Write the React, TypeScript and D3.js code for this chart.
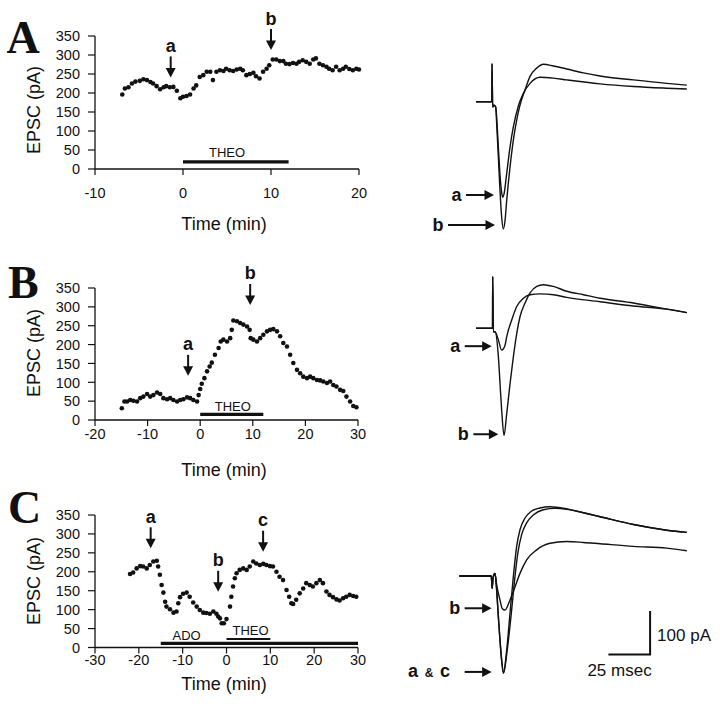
import React from 'react';
import * as d3 from 'd3';

// ---------- DATA ----------
// Time courses: [time (min), EPSC (pA)]
const courseA: [number, number][] = [
  [-6.9,196],[-6.6,212],[-6.2,215],[-5.8,225],[-5.4,230],[-4.9,232],[-4.5,236],[-4.1,234],[-3.7,229],[-3.4,225],
  [-3.0,218],[-2.6,210],[-2.2,215],[-1.9,218],[-1.5,215],[-1.1,216],[-0.7,206],[-0.3,186],[0.0,190],[0.4,192],
  [0.8,196],[1.2,212],[1.5,220],[1.9,242],[2.3,247],[2.7,256],[3.1,256],[3.4,234],[3.8,256],[4.2,260],
  [4.6,258],[4.9,264],[5.3,260],[5.7,258],[6.1,262],[6.5,264],[6.8,260],[7.2,247],[7.6,250],[8.0,253],
  [8.3,244],[8.7,238],[9.1,256],[9.5,264],[9.8,273],[10.2,288],[10.6,288],[11.0,284],[11.4,284],[11.7,277],
  [12.1,276],[12.5,279],[12.9,277],[13.2,282],[13.6,286],[14.0,282],[14.4,277],[14.8,288],[15.1,291],[15.5,277],
  [15.9,273],[16.3,269],[16.6,264],[17.0,260],[17.4,269],[17.8,260],[18.2,264],[18.5,269],[18.9,263],[19.3,260],
  [19.7,264],[20.0,262]
];
const courseB: [number, number][] = [
  [-14.9,31],[-14.4,49],[-13.9,49],[-13.3,53],[-12.7,51],[-12.0,49],[-11.4,58],[-10.8,62],[-10.1,69],[-9.5,62],
  [-8.9,66],[-8.2,73],[-7.6,69],[-7.0,58],[-6.3,55],[-5.7,58],[-5.1,53],[-4.4,49],[-3.8,53],[-3.2,55],
  [-2.5,60],[-1.9,58],[-1.3,53],[-0.6,49],[-0.3,66],[0.0,82],[0.3,96],[0.8,111],[1.3,129],[1.8,142],
  [2.2,152],[2.8,173],[3.5,191],[3.9,208],[4.4,213],[5.1,208],[5.7,217],[6.0,239],[6.3,264],[7.0,262],
  [7.6,257],[8.2,253],[8.9,248],[9.4,239],[9.6,217],[10.1,213],[10.8,208],[11.4,217],[12.0,226],[12.7,235],
  [13.3,239],[13.9,241],[14.6,235],[15.2,222],[15.8,204],[16.5,195],[17.1,173],[17.7,151],[18.4,133],[19.0,124],
  [19.6,115],[20.3,111],[20.9,115],[21.5,111],[22.2,106],[22.8,105],[23.4,102],[24.1,98],[24.7,102],[25.3,93],
  [25.9,89],[26.6,80],[27.2,77],[27.8,62],[28.5,49],[29.1,37],[29.7,34]
];
const courseC: [number, number][] = [
  [-22.0,194],[-21.3,198],[-20.5,209],[-19.7,215],[-19.0,214],[-18.2,209],[-17.5,218],[-16.7,227],[-15.9,229],[-15.6,214],
  [-15.2,192],[-14.8,165],[-14.4,145],[-14.0,121],[-13.7,108],[-12.9,101],[-12.1,92],[-11.4,95],[-11.0,117],[-10.6,133],
  [-9.9,142],[-9.1,145],[-8.4,134],[-7.6,119],[-6.8,108],[-6.1,99],[-5.3,92],[-4.6,91],[-3.8,89],[-3.0,95],
  [-2.3,89],[-1.9,82],[-1.5,77],[-1.1,64],[-0.6,64],[0.0,75],[0.8,108],[1.1,134],[1.5,161],[1.9,183],
  [2.3,196],[3.0,205],[3.8,209],[4.6,205],[5.3,214],[6.1,227],[6.8,222],[7.6,218],[8.4,221],[9.1,218],
  [9.9,215],[10.6,214],[11.4,200],[12.1,187],[12.9,178],[13.7,152],[14.3,134],[14.8,117],[15.2,115],[15.9,126],
  [16.7,143],[17.5,156],[18.2,170],[19.0,165],[19.7,161],[20.5,170],[21.3,178],[22.0,170],[22.8,148],[23.5,139],
  [24.3,133],[25.1,127],[25.8,124],[26.6,130],[27.3,134],[28.1,139],[28.9,136],[29.6,134]
];

const yTicks = [0, 50, 100, 150, 200, 250, 300, 350];
const xTicksA = [-10, 0, 10, 20];
const xTicksB = [-20, -10, 0, 10, 20, 30];
const xTicksC = [-30, -20, -10, 0, 10, 20, 30];

// drug application bars: [label, start, end, level (pA)]
const drugsA: [string, number, number, number][] = [['THEO', 0, 12, 19]];
const drugsB: [string, number, number, number][] = [['THEO', 0, 12, 15]];
const drugsC: [string, number, number, number][] = [['ADO', -15, 30, 11], ['THEO', 0, 10, 22.5]];
// drug label anchor times
const drugLabelT_A = [5.0];
const drugLabelT_B = [6.2];
const drugLabelT_C = [-9.1, 5.5];

// time-course arrows: [label, time, tip value]
const arrowsA: [string, number, number][] = [['a', -1.4, 241], ['b', 10, 313]];
const arrowsB: [string, number, number][] = [['a', -2.3, 117], ['b', 9.5, 305]];
const arrowsC: [string, number, number][] = [['a', -17.3, 262], ['b', -1.9, 147], ['c', 8.35, 253]];

// Current traces: [time (ms) from stimulus, current (pA) from baseline]
const traceAa: [number, number][] = [
  [-9.6,0],[-0.4,0],[-0.1,2],[0,87],[0.4,-12],[1.2,-8],[2.2,-12],[3.8,-104],[4.8,-168],[5.8,-208],[6.4,-219],
  [7.2,-212],[8.8,-165],[10.8,-104],[12.8,-58],[15.8,-10],[18.8,19],[22.8,42],[28.8,56],[36.8,54],[44.8,50],
  [64.8,41],[84.8,35],[104.8,31],[116.8,29]
];
const traceAb: [number, number][] = [
  [-9.6,0],[-0.4,0],[-0.1,2],[0,87],[0.4,-12],[1.2,-8],[2.2,-12],[2.8,-50],[3.8,-127],[4.8,-204],[5.8,-265],
  [6.8,-292],[7.8,-273],[8.8,-227],[10.8,-150],[12.8,-88],[14.8,-42],[16.8,-8],[19.8,27],[22.8,58],[26.8,77],
  [30.8,86],[36.8,82],[44.8,75],[54.8,66],[64.8,59],[84.8,50],[104.8,42],[116.8,38]
];
const traceBa: [number, number][] = [
  [-10,0],[-0.4,0],[-0.1,2],[0,119],[0.4,-8],[1.4,-8],[3.4,-27],[5.4,-50],[7.4,-39],[8.4,-19],[11.4,19],
  [14.4,50],[18.4,69],[22.4,77],[28.4,79],[36.4,77],[44.4,71],[64.4,61],[84.4,51],[104.4,44],[116.4,36]
];
const traceBb: [number, number][] = [
  [-10,0],[-0.4,0],[-0.1,2],[0,119],[0.4,-8],[1.4,-8],[3.4,-65],[4.4,-127],[5.4,-189],[6.8,-246],[8.4,-196],
  [10.4,-127],[12.4,-65],[14.4,-12],[16.4,27],[19.4,58],[22.4,81],[26.4,96],[30.4,100],[36.4,96],[44.4,85],
  [54.4,77],[64.4,69],[84.4,58],[104.4,44],[116.4,36]
];
const traceCa: [number, number][] = [
  [-20.4,0],[-1.2,0],[-0.7,-28],[-0.2,-5],[1,6],[2,-32],[3,-94],[4,-148],[5,-194],[6,-223],[8,-171],[10,-86],
  [12,-2],[14,68],[16,106],[19,133],[23,149],[28,156],[34,159],[44,154],[54,145],[64,136],[84,118],[104,105],[116,100]
];
const traceCb: [number, number][] = [
  [-20.4,0],[-1.2,0],[-0.7,-28],[-0.2,-5],[1,6],[2,-20],[4,-55],[5.4,-75],[7,-78],[10,-55],[13,-25],[16,6],
  [20,37],[26,60],[34,75],[44,79],[54,77],[64,74],[84,68],[104,64],[116,58]
];
const traceCc: [number, number][] = [
  [-20.4,0],[-1.2,0],[-0.7,-28],[-0.2,-5],[1,6],[2,-30],[3,-90],[4,-145],[5,-192],[6.2,-222],[8.4,-168],[10.8,-86],
  [12.8,-8],[14.8,55],[17,95],[20,122],[24,140],[30,152],[37,155],[44,153],[54,145],[64,136],[84,118],[104,105],[116,100]
];

// trace arrows: [label, time (ms) of tip, current (pA) of tip]
const traceArrowsA: [string, number, number][] = [['a', 1.2, -214], ['b', 1.8, -283]];
const traceArrowsB: [string, number, number][] = [['a', -0.6, -41], ['b', 3.4, -243]];
const traceArrowsC: [string, number, number][] = [['b', -1, -74], ['a & c', -1, -220]];

const scaleBarMs = 25;
const scaleBarPA = 100;
const scaleBarCorner: [number, number] = [94, -180];

// ---------- LAYOUT ----------
const SANS = "'Liberation Sans', Arial, Helvetica, sans-serif";
const SERIF = "'Liberation Serif', 'Times New Roman', serif";
const INK = '#111';

const MS_PX = 41.7 / 25;
const PA_PX = 43.6 / 100;

type Panel = {
  letter: string; letterX: number; letterBase: number;
  x0: number; x1: number; yTop: number; yBot: number;
  domain: [number, number]; xTicks: number[];
  tickLabelBase: number; titleBase: number; yLabelCenter: number;
  data: [number, number][];
  drugs: [string, number, number, number][]; drugLabelT: number[]; drugLabelGap: number[];
  arrows: [string, number, number][];
  traceOrigin: [number, number]; traces: [number, number][][];
  traceArrows: [string, number, number][]; arrowLens: number[];
};

const panels: Panel[] = [
  {
    letter: 'A', letterX: 6.5, letterBase: 53.3,
    x0: 95, x1: 359, yTop: 36, yBot: 169, domain: [-10, 20], xTicks: xTicksA,
    tickLabelBase: 198, titleBase: 229.6, yLabelCenter: 110,
    data: courseA, drugs: drugsA, drugLabelT: drugLabelT_A, drugLabelGap: [5.2],
    arrows: arrowsA,
    traceOrigin: [492, 101.7], traces: [traceAa, traceAb],
    traceArrows: traceArrowsA, arrowLens: [28, 47],
  },
  {
    letter: 'B', letterX: 8, letterBase: 298.3,
    x0: 95, x1: 358, yTop: 288, yBot: 420, domain: [-20, 30], xTicks: xTicksB,
    tickLabelBase: 439, titleBase: 476.2, yLabelCenter: 353,
    data: courseB, drugs: drugsB, drugLabelT: drugLabelT_B, drugLabelGap: [3],
    arrows: arrowsB,
    traceOrigin: [492.7, 328.3], traces: [traceBa, traceBb],
    traceArrows: traceArrowsB, arrowLens: [27, 25],
  },
  {
    letter: 'C', letterX: 8, letterBase: 522.5,
    x0: 95, x1: 358, yTop: 515, yBot: 647.5, domain: [-30, 30], xTicks: xTicksC,
    tickLabelBase: 665, titleBase: 689.6, yLabelCenter: 581,
    data: courseC, drugs: drugsC, drugLabelT: drugLabelT_C, drugLabelGap: [3.5, 4.2],
    arrows: arrowsC,
    traceOrigin: [493.3, 576], traces: [traceCa, traceCb, traceCc],
    traceArrows: traceArrowsC, arrowLens: [27, 27],
  },
];

function TimeCourse({ p }: { p: Panel }) {
  const x = d3.scaleLinear().domain(p.domain).range([p.x0, p.x1]);
  const y = d3.scaleLinear().domain([0, 350]).range([p.yBot, p.yTop]);
  return (
    <g>
      <text x={p.letterX} y={p.letterBase} fontFamily={SERIF} fontWeight="bold" fontSize={46} fill={INK}>{p.letter}</text>
      {/* y axis */}
      <line x1={p.x0} x2={p.x0} y1={y(0)} y2={y(350)} stroke={INK} strokeWidth={1.3} />
      {yTicks.map((t) => (
        <g key={'y' + t}>
          <line x1={p.x0 - 7} x2={p.x0} y1={y(t)} y2={y(t)} stroke={INK} strokeWidth={1.2} />
          <text x={80} y={y(t)} dy="0.36em" textAnchor="end" fontFamily={SANS} fontSize={14.5} fill={INK}>{t}</text>
        </g>
      ))}
      {/* x axis */}
      <line x1={p.x0} x2={p.x1} y1={y(0)} y2={y(0)} stroke={INK} strokeWidth={1.3} />
      {p.xTicks.map((t) => (
        <g key={'x' + t}>
          <line x1={x(t)} x2={x(t)} y1={y(0)} y2={y(0) + 6} stroke={INK} strokeWidth={1.2} />
          <text x={x(t)} y={p.tickLabelBase} textAnchor="middle" fontFamily={SANS} fontSize={14.5} fill={INK}>{t}</text>
        </g>
      ))}
      <text x={224} y={p.titleBase} textAnchor="middle" fontFamily={SANS} fontSize={18} fill={INK}>Time (min)</text>
      <text transform={`translate(40,${p.yLabelCenter}) rotate(-90)`} textAnchor="middle" fontFamily={SANS} fontSize={18} fill={INK}>EPSC (pA)</text>
      {/* drug bars */}
      {p.drugs.map((d, i) => (
        <g key={'d' + i}>
          <line x1={x(d[1])} x2={x(d[2])} y1={y(d[3])} y2={y(d[3])} stroke={INK} strokeWidth={d[0] === 'THEO' && p.drugs.length > 1 ? 2.2 : 3.2} />
          <text x={x(p.drugLabelT[i])} y={y(d[3]) - p.drugLabelGap[i]} textAnchor="middle" fontFamily={SANS} fontSize={13} fill={INK}>{d[0]}</text>
        </g>
      ))}
      {/* data */}
      {p.data.map((d, i) => (
        <circle key={'p' + i} cx={x(d[0])} cy={y(d[1])} r={2.3} fill={INK} />
      ))}
      {/* arrows */}
      {p.arrows.map((a, i) => {
        const ax = x(a[1]);
        const ay = y(a[2]);
        return (
          <g key={'a' + i}>
            <line x1={ax} x2={ax} y1={ay - 21} y2={ay - 8} stroke={INK} strokeWidth={2} />
            <polygon points={`${ax - 5},${ay - 9.5} ${ax + 5},${ay - 9.5} ${ax},${ay}`} fill={INK} />
            <text x={ax} y={ay - 25.5} textAnchor="middle" fontFamily={SANS} fontWeight="bold" fontSize={18} fill={INK}>{a[0]}</text>
          </g>
        );
      })}
    </g>
  );
}

function Traces({ p, showScale }: { p: Panel; showScale: boolean }) {
  const [ox, oy] = p.traceOrigin;
  const sx = d3.scaleLinear().domain([0, 1]).range([ox, ox + MS_PX]);
  const sy = d3.scaleLinear().domain([0, 1]).range([oy, oy - PA_PX]);
  const line = d3.line<[number, number]>().x((d) => sx(d[0])).y((d) => sy(d[1])).curve(d3.curveMonotoneX);
  return (
    <g>
      {p.traces.map((t, i) => (
        <path key={'t' + i} d={line(t) || ''} fill="none" stroke={INK} strokeWidth={1.4} strokeLinejoin="round" />
      ))}
      {p.traceArrows.map((a, i) => {
        const tx = sx(a[1]);
        const ty = sy(a[2]);
        const len = p.arrowLens[i];
        const lx = tx - len - 4.5;
        return (
          <g key={'ta' + i}>
            <line x1={tx - len} x2={tx - 8} y1={ty} y2={ty} stroke={INK} strokeWidth={2} />
            <polygon points={`${tx - 9.5},${ty - 5} ${tx - 9.5},${ty + 5} ${tx},${ty}`} fill={INK} />
            {a[0] === 'a & c' ? (
              <g fontFamily={SANS} fontWeight="bold" fill={INK}>
                <text x={lx - 15} y={ty + 5.5} textAnchor="middle" fontSize={18}>c</text>
                <text x={lx - 31} y={ty + 5.5} textAnchor="middle" fontSize={12}>&amp;</text>
                <text x={lx - 47} y={ty + 5.5} textAnchor="middle" fontSize={18}>a</text>
              </g>
            ) : (
              <text x={lx} y={ty + 5.5} textAnchor="end" fontFamily={SANS} fontWeight="bold" fontSize={18} fill={INK}>{a[0]}</text>
            )}
          </g>
        );
      })}
      {showScale && (() => {
        const cx = sx(scaleBarCorner[0]);
        const cy = sy(scaleBarCorner[1]);
        const left = sx(scaleBarCorner[0] - scaleBarMs);
        const top = sy(scaleBarCorner[1] + scaleBarPA);
        return (
          <g>
            <path d={`M${left},${cy}H${cx}V${top}`} fill="none" stroke={INK} strokeWidth={2} />
            <text x={cx + 7} y={(cy + top) / 2 + 8} fontFamily={SANS} fontSize={17} fill={INK}>{scaleBarPA} pA</text>
            <text x={left - 21} y={cy + 22} fontFamily={SANS} fontSize={17} fill={INK}>{scaleBarMs} msec</text>
          </g>
        );
      })()}
    </g>
  );
}

export default function App() {
  return (
    <svg width={720} height={711} viewBox="0 0 720 711" style={{ position: 'absolute', left: 0, top: 0, background: '#fff' }}>
      <rect x={0} y={0} width={720} height={711} fill="#fff" />
      {panels.map((p, i) => (
        <g key={p.letter}>
          <TimeCourse p={p} />
          <Traces p={p} showScale={i === 2} />
        </g>
      ))}
    </svg>
  );
}
